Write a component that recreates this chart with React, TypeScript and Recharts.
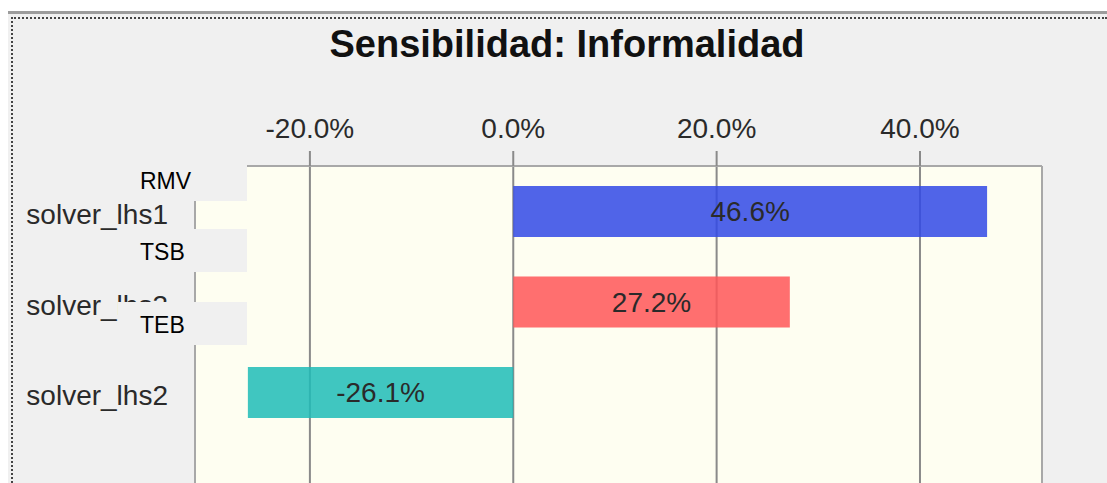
import React from 'react';
import { BarChart, Bar, XAxis, YAxis, CartesianGrid, ReferenceLine, LabelList, Cell } from 'recharts';

// ---- data ----
const categories = ['solver_lhs1', 'solver_lhs3', 'solver_lhs2', ''];
const sensitivity: (number | null)[] = [46.6, 27.2, -26.1, null];
const barColors = ['#3149E6', '#FF5658', '#1EBCB7'];
const xTicks = [-20, 0, 20, 40];
const xDomain: [number, number] = [-31.3, 52];
const chartTitle = 'Sensibilidad: Informalidad';
const overlayLabels = ['RMV', 'TSB', 'TEB'];

const data = categories.map((name, i) => ({ name, value: sensitivity[i] }));

const FONT = "'Liberation Sans', Arial, sans-serif";
const fmtPct = (v: any) => (v === null || v === undefined || v === '' ? '' : `${Number(v).toFixed(1)}%`);

const overlayBoxes = [
  { top: 158, height: 43 },
  { top: 229, height: 43 },
  { top: 302, height: 43 },
];

const XTick = (props: any) => {
  const { x, y, payload } = props;
  return (
    <text x={x} y={y} textAnchor="middle" fill="#2a2a2a" fontSize={28} fontFamily={FONT}>
      {fmtPct(payload.value)}
    </text>
  );
};

const YTick = (props: any) => {
  const { x, y, payload } = props;
  if (!payload.value) return <g />;
  return (
    <text x={x} y={y + 13} textAnchor="end" fill="#2a2a2a" fontSize={28} fontFamily={FONT}>
      {payload.value}
    </text>
  );
};

export default function App() {
  return (
    <div
      style={{
        position: 'absolute',
        left: 0,
        top: 0,
        width: 1107,
        height: 483,
        overflow: 'hidden',
        background: '#ffffff',
      }}
    >
      {/* panel */}
      <div
        style={{
          position: 'absolute',
          left: 8,
          top: 11,
          width: 1099,
          height: 472,
          background: '#f0f0f0',
          borderTop: '3px solid #9c9c9c',
          boxSizing: 'border-box',
        }}
      />
      <div
        style={{
          position: 'absolute',
          left: 11,
          top: 17,
          width: 1096,
          height: 466,
          borderTop: '2px dotted #444',
          borderLeft: '2px dotted #444',
          boxSizing: 'border-box',
        }}
      />
      <div
        style={{
          position: 'absolute',
          left: 567,
          top: 25,
          transform: 'translateX(-50%)',
          whiteSpace: 'nowrap',
          fontFamily: FONT,
          fontWeight: 'bold',
          fontSize: 38,
          lineHeight: '38px',
          color: '#111',
        }}
      >
        {chartTitle}
      </div>
      <div style={{ position: 'absolute', left: 0, top: 0 }}>
        <BarChart
          width={1107}
          height={540}
          data={data}
          layout="vertical"
          margin={{ top: 0, right: 65, bottom: 12, left: 0 }}
        >
          <CartesianGrid
            horizontal={false}
            vertical={true}
            fill="#FEFEF1"
            fillOpacity={1}
            stroke="#8a8a8a"
            strokeWidth={2}
          />
          <XAxis
            type="number"
            orientation="top"
            domain={xDomain}
            ticks={xTicks}
            allowDataOverflow
            height={166}
            tickSize={15}
            tickMargin={13}
            axisLine={{ stroke: '#a8a8a8', strokeWidth: 2 }}
            tickLine={{ stroke: '#8a8a8a', strokeWidth: 2 }}
            tick={<XTick />}
            interval={0}
          />
          <YAxis
            type="category"
            dataKey="name"
            width={195}
            tickSize={0}
            tickMargin={27}
            axisLine={{ stroke: '#a8a8a8', strokeWidth: 2 }}
            tickLine={false}
            tick={<YTick />}
            interval={0}
          />
          <ReferenceLine x={xDomain[1]} stroke="#a8a8a8" strokeWidth={2} ifOverflow="visible" />
          <Bar dataKey="value" barSize={51} fillOpacity={0.85} isAnimationActive={false}>
            {data.map((d, i) => (
              <Cell key={i} fill={barColors[i % barColors.length]} />
            ))}
            <LabelList
              dataKey="value"
              position="center"
              formatter={fmtPct}
              fill="#2a2a2a"
              fontSize={28}
              fontFamily={FONT}
            />
          </Bar>
        </BarChart>
      </div>
      {overlayLabels.map((label, i) => (
        <div
          key={label}
          style={{
            position: 'absolute',
            left: 118,
            top: overlayBoxes[i].top,
            width: 129,
            height: overlayBoxes[i].height,
            background: '#f0f0f0',
          }}
        >
          <div
            style={{
              position: 'absolute',
              left: 22,
              top: 12,
              fontFamily: FONT,
              fontSize: 23,
              lineHeight: '23px',
              color: '#000',
              whiteSpace: 'nowrap',
            }}
          >
            {label}
          </div>
        </div>
      ))}
    </div>
  );
}
